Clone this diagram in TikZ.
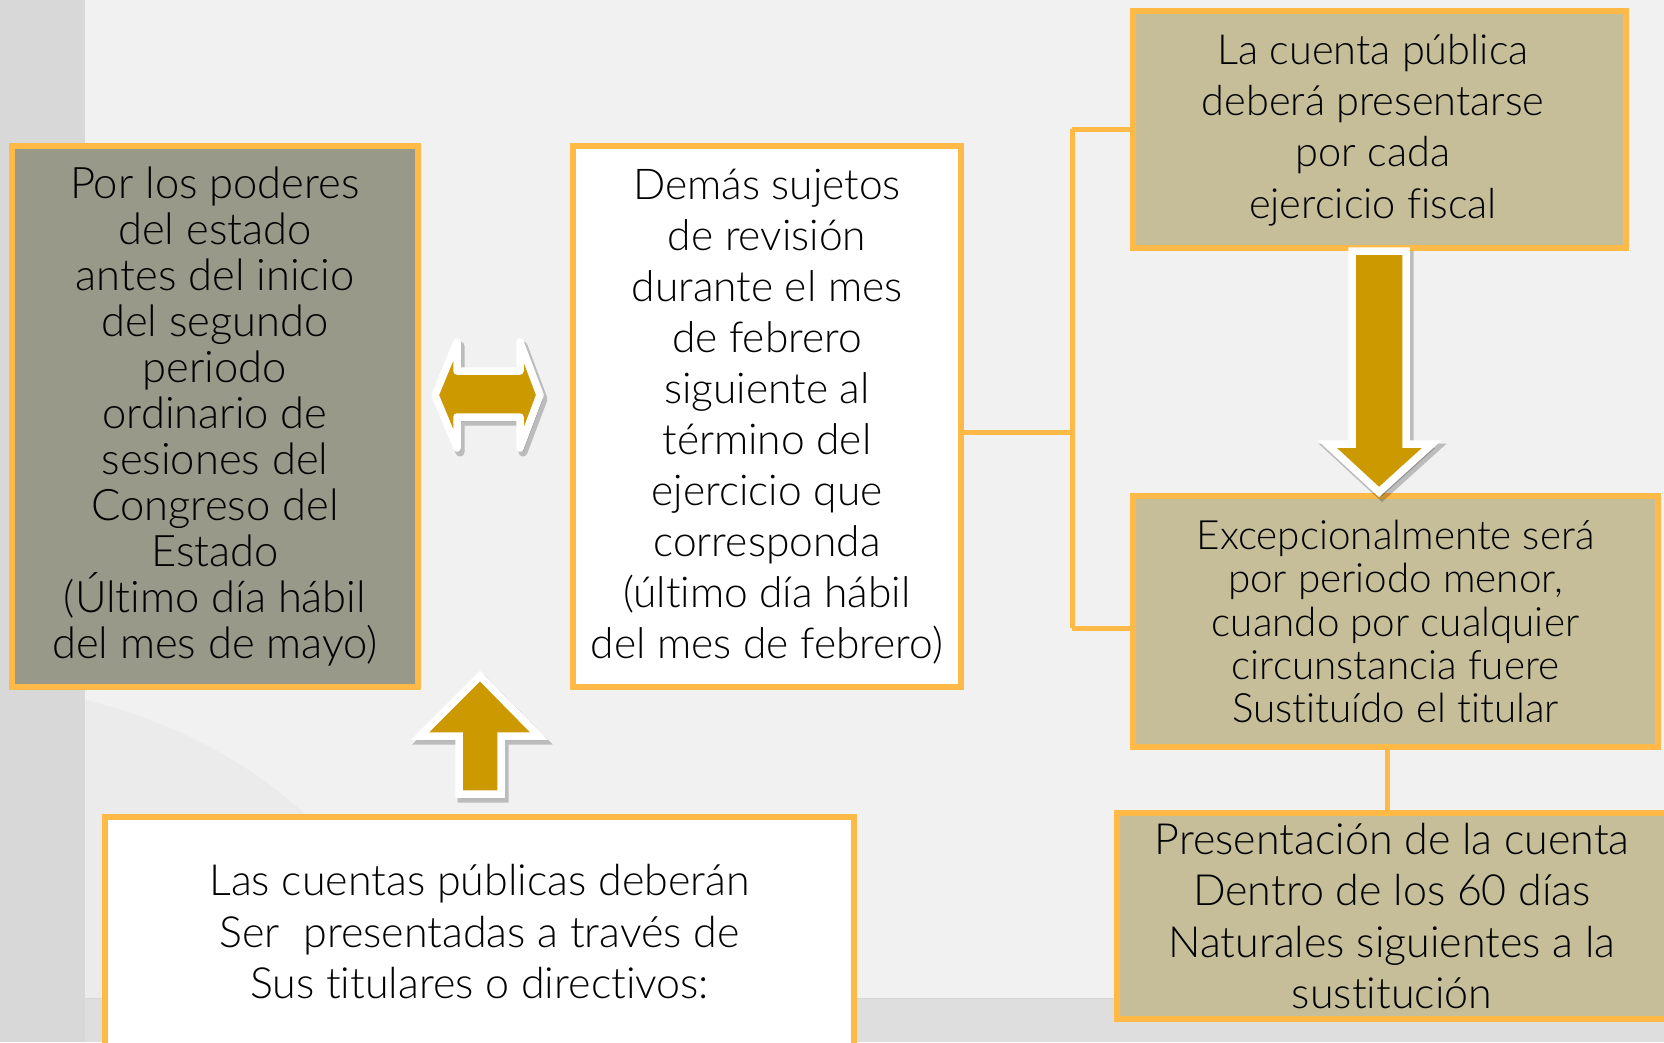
\documentclass[tikz,border=0pt]{standalone}
\usepackage{fontspec}
\IfFontExistsTF{Lato Light}{\setmainfont{Lato Light}[Ligatures=NoCommon]}{\setmainfont{Lato}[Ligatures=NoCommon]}
\definecolor{gold}{RGB}{204,153,0}
\definecolor{boxline}{RGB}{255,185,70}
\definecolor{greyfill}{RGB}{153,153,137}
\definecolor{tanfill}{RGB}{197,190,153}
\definecolor{bgout}{RGB}{216,216,216}
\definecolor{bgin}{RGB}{241,241,241}
\definecolor{bgsweep}{RGB}{235,235,235}
\definecolor{bgbottom}{RGB}{222,222,222}
\tikzset{
  box/.style={draw=boxline, line width=5.5pt, inner sep=0pt, align=center, text=black},
  grey box/.style={box, fill=greyfill},
  tan box/.style={box, fill=tanfill},
  white box/.style={box, fill=white},
  boxtext/.style={inner sep=0pt, align=center, text=black},
  link/.style={draw=boxline, line width=5pt},
  bigarrow/.style={fill=gold, draw=white, line width=7.5pt},
  arrowshadow/.style={fill=black, draw=black, line width=9pt, opacity=0.22},
}
\begin{document}
\begin{tikzpicture}[x=1pt,y=-1pt]
\useasboundingbox (0,0) rectangle (1664,1042);
% background
\fill[bgout] (0,0) rectangle (1664,1042);
\fill[bgbottom] (85,990) rectangle (1664,1042);
\fill[bgin, rounded corners=30] (85,-40) rectangle (1720,998);
\fill[bgsweep] (85,700) .. controls (190,725) and (280,780) .. (340,850) -- (340,998) -- (85,998) -- cycle;
\draw[black!16, line width=1.5pt] (85,998.5) -- (1664,998.5);

% connector junctions
\coordinate (jb) at (1072,432);
\coordinate (jt) at (1072,129);
\coordinate (jd) at (1072,628);

% connectors
\draw[link] (767,432) -- (jb);
\draw[link] (jt) -- (jd);
\draw[link] (jt) -- (1140,129);
\draw[link] (jd) -- (1140,628);
\draw[link] (1387,740) -- (1387,820);

% boxes
\node[grey box, minimum width=406, minimum height=541, font=\fontsize{43.5}{46}\selectfont] (A) at (215,416.5)
  {Por los poderes\\del estado\\antes del inicio\\del segundo\\periodo\\ordinario de\\sesiones del\\Congreso del\\Estado\\(Último día hábil\\del mes de mayo)};
\node[white box, minimum width=388, minimum height=541, font=\fontsize{42.5}{51}\selectfont] (B) at (767,416.5)
  {Demás sujetos\\de revisión\\durante el mes\\de febrero\\siguiente al\\término del\\ejercicio que\\corresponda\\(último día hábil\\del mes de febrero)};
\node[tan box, minimum width=493, minimum height=237] (C) at (1379.5,129.5) {};
\node[boxtext, font=\fontsize{41.5}{51.3}\selectfont] (Ct) at (1373,130)
  {La cuenta pública\\deberá presentarse\\por cada\\ejercicio fiscal};
\node[tan box, minimum width=525, minimum height=251, font=\fontsize{40.4}{43.3}\selectfont] (D) at (1395.5,621.5)
  {Excepcionalmente será\\por periodo menor,\\cuando por cualquier\\circunstancia fuere\\Sustituído el titular};
\node[tan box, minimum width=550, minimum height=206, font=\fontsize{43}{51.3}\selectfont] (E) at (1392,916)
  {Presentación de la cuenta\\Dentro de los 60 días\\Naturales siguientes a la\\sustitución};
\node[white box, minimum width=749, minimum height=230, font=\fontsize{43}{51.5}\selectfont] (F) at (479.5,932)
  {Las cuentas públicas deberán\\Ser\ \ presentadas a través de\\Sus titulares o directivos:};

% double arrow between A and B
\path[arrowshadow, line join=round, shift={(3,4)}]
  (435,395) -- (457,342) -- (457,371) -- (520,371) -- (520,342) -- (540,395)
  -- (520,448) -- (520,417) -- (457,417) -- (457,448) -- cycle;
\path[bigarrow, line join=round] (435,395) -- (457,342) -- (457,371) -- (520,371) -- (520,342) -- (540,395)
  -- (520,448) -- (520,417) -- (457,417) -- (457,448) -- cycle;

% up arrow from F towards A
\path[arrowshadow, shift={(3,4)}]
  (480,676) -- (539,736) -- (501,736) -- (501,794) -- (459,794) -- (459,736) -- (420,736) -- cycle;
\path[bigarrow] (480,676) -- (539,736) -- (501,736) -- (501,794) -- (459,794) -- (459,736) -- (420,736) -- cycle;

% down arrow from C to D
\path[arrowshadow, shift={(3,4)}]
  (1352,251) -- (1406,251) -- (1406,444) -- (1432,444) -- (1379,492) -- (1327,444) -- (1352,444) -- cycle;
\path[bigarrow] (1352,251) -- (1406,251) -- (1406,444) -- (1432,444) -- (1379,492) -- (1327,444) -- (1352,444) -- cycle;
\end{tikzpicture}
\end{document}
